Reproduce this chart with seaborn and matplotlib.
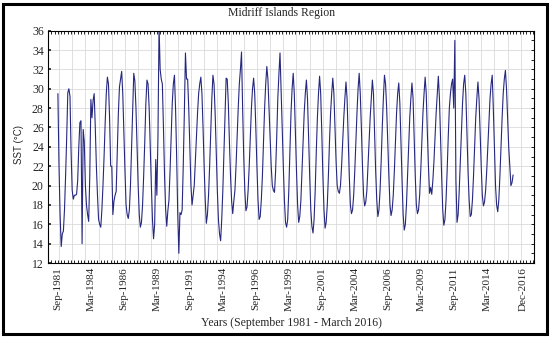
import numpy as np
import pandas as pd
import matplotlib
matplotlib.use("Agg")
import matplotlib.pyplot as plt
import seaborn as sns
from matplotlib.patches import Rectangle

# ---- data: monthly SST (deg C), Sep-1981 .. Mar-2016 ----
y1981 = [29.5, 22.0, 17.0, 13.7]
y1982 = [15.0, 15.3, 17.5, 21.0, 25.0, 29.6, 30.0, 29.2, 23.5, 19.5, 18.6, 19.0]
y1983 = [19.0, 19.1, 20.5, 24.0, 26.5, 26.7, 14.0, 25.8, 24.5, 20.0, 18.0, 17.0]
y1984 = [16.3, 21.0, 28.9, 27.0, 28.8, 29.5, 26.0, 22.0, 19.0, 16.5, 16.0, 15.7]
y1985 = [17.5, 20.0, 23.0, 26.5, 29.5, 31.2, 30.5, 27.0, 22.0, 22.0, 17.0, 18.4]
y1986 = [19.0, 19.4, 23.5, 27.5, 30.2, 31.0, 31.8, 29.5, 25.5, 21.5, 18.0, 17.0]
y1987 = [16.6, 17.5, 20.0, 24.0, 28.0, 31.6, 30.8, 28.0, 24.0, 20.0, 17.0, 15.7]
y1988 = [16.2, 18.0, 21.0, 24.5, 28.5, 30.9, 30.5, 28.0, 24.0, 20.0, 16.5, 14.5]
y1989 = [16.0, 22.7, 19.0, 25.0, 36.5, 32.0, 31.0, 30.5, 26.0, 21.0, 17.5, 15.8]
y1990 = [17.4, 18.5, 21.5, 25.0, 28.5, 30.5, 31.4, 28.0, 23.0, 17.0, 13.0, 17.2]
y1991 = [17.0, 17.5, 22.0, 27.5, 33.7, 31.0, 31.0, 28.0, 24.0, 20.0, 18.0, 19.0]
y1992 = [20.0, 22.5, 25.0, 27.5, 29.5, 30.5, 31.2, 29.5, 26.0, 22.0, 18.5, 16.1]
y1993 = [17.0, 19.0, 22.0, 25.5, 29.0, 31.4, 30.5, 27.5, 23.5, 19.5, 16.5, 15.0]
y1994 = [14.3, 16.5, 19.5, 23.5, 27.5, 31.1, 31.0, 28.5, 24.5, 21.0, 18.4, 17.1]
y1995 = [18.4, 19.5, 22.0, 25.0, 28.0, 30.5, 32.0, 33.8, 28.0, 23.0, 19.5, 17.4]
y1996 = [17.8, 19.5, 22.0, 25.0, 28.0, 30.0, 31.1, 29.5, 26.0, 22.0, 18.5, 16.5]
y1997 = [16.8, 18.5, 21.0, 24.5, 28.0, 30.5, 32.3, 31.0, 28.0, 25.0, 22.0, 20.0]
y1998 = [19.5, 19.3, 21.5, 25.0, 29.0, 31.5, 33.7, 30.0, 26.0, 22.0, 18.5, 16.2]
y1999 = [15.7, 16.5, 19.5, 23.5, 27.5, 30.0, 31.6, 29.5, 25.5, 21.5, 18.0, 16.2]
y2000 = [16.8, 18.5, 21.5, 24.5, 27.5, 29.5, 30.9, 29.0, 25.0, 21.0, 17.5, 15.8]
y2001 = [15.1, 16.5, 19.5, 23.5, 27.0, 29.5, 31.3, 29.5, 25.5, 21.0, 17.5, 15.6]
y2002 = [16.2, 18.0, 21.0, 24.5, 27.5, 29.5, 31.1, 29.5, 26.0, 22.5, 20.0, 19.4]
y2003 = [19.2, 20.0, 22.0, 24.5, 27.0, 29.0, 30.7, 29.0, 25.0, 21.0, 18.0, 17.1]
y2004 = [17.5, 19.0, 21.5, 24.5, 27.5, 30.0, 31.6, 29.5, 26.0, 22.0, 19.0, 17.9]
y2005 = [18.3, 19.5, 22.0, 24.5, 27.0, 29.0, 30.9, 29.5, 25.5, 21.5, 18.5, 16.8]
y2006 = [17.5, 19.5, 22.5, 26.0, 29.0, 31.4, 30.5, 28.0, 24.5, 21.0, 18.0, 16.9]
y2007 = [17.5, 19.0, 21.5, 24.5, 27.5, 29.5, 30.6, 28.5, 24.5, 20.5, 17.0, 15.4]
y2008 = [16.0, 18.0, 21.0, 24.0, 27.0, 29.0, 30.6, 29.0, 25.0, 21.0, 18.0, 17.1]
y2009 = [17.5, 19.0, 21.5, 24.5, 27.5, 29.5, 31.2, 29.5, 25.5, 22.0, 19.2, 19.8]
y2010 = [19.1, 20.5, 22.5, 25.0, 27.5, 29.5, 31.3, 29.0, 25.0, 21.0, 17.5, 15.9]
y2011 = [16.5, 18.5, 21.5, 25.0, 28.0, 29.5, 30.5, 31.0, 28.0, 35.0, 20.5, 16.2]
y2012 = [17.0, 19.5, 22.5, 25.5, 28.5, 30.5, 31.4, 29.5, 25.5, 21.5, 18.5, 16.8]
y2013 = [17.0, 18.5, 21.0, 24.0, 27.0, 29.0, 30.7, 29.0, 25.5, 22.0, 19.0, 17.9]
y2014 = [18.3, 19.5, 21.5, 24.0, 26.5, 29.0, 30.5, 31.4, 28.0, 24.0, 20.0, 18.0]
y2015 = [17.3, 18.5, 21.0, 24.0, 27.0, 29.5, 31.0, 31.9, 30.0, 27.0, 24.0, 22.0]
y2016 = [20.0, 20.3, 21.1]

tick_labels = ["Sep-1981", "Mar-1984", "Sep-1986", "Mar-1989", "Sep-1991",
               "Mar-1994", "Sep-1996", "Mar-1999", "Sep-2001", "Mar-2004",
               "Sep-2006", "Mar-2009", "Sep-2011", "Mar-2014", "Dec-2016"]
y_ticks = [12, 14, 16, 18, 20, 22, 24, 26, 28, 30, 32, 34, 36]

title = "Midriff Islands Region"
x_title = "Years (September 1981 - March 2016)"
y_title = "SST (°C)"

sst = np.array(y1981 + y1982 + y1983 + y1984 + y1985 + y1986 + y1987 + y1988 +
               y1989 + y1990 + y1991 + y1992 + y1993 + y1994 + y1995 + y1996 +
               y1997 + y1998 + y1999 + y2000 + y2001 + y2002 + y2003 + y2004 +
               y2005 + y2006 + y2007 + y2008 + y2009 + y2010 + y2011 + y2012 +
               y2013 + y2014 + y2015 + y2016)
df = pd.DataFrame({"month": np.arange(len(sst)), "sst": sst})

# ---- styling ----
sns.set_theme(style="white")
plt.rcParams['font.family'] = ['Liberation Serif', 'DejaVu Serif']

fig = plt.figure(figsize=(5.5, 3.37), dpi=100)
ax = fig.add_axes([48 / 550, 1 - 263 / 337, (534 - 48) / 550, (263 - 30.7) / 337])

sns.lineplot(data=df, x="month", y="sst", ax=ax, color="#26287f", lw=0.8)

xmin, xmax = -9, 433
ax.set_xlim(xmin, xmax)
ax.set_ylim(12, 36)

td = pd.to_datetime(tick_labels, format="%b-%Y")
tick_pos = (td.year - 1981) * 12 + td.month - 9
ax.set_xticks(tick_pos)
ax.set_xticklabels(tick_labels, rotation=90, fontsize=8)
ax.set_yticks(y_ticks)
ax.set_yticklabels([str(v) for v in y_ticks], fontsize=8.5)

ax.set_xticks(np.arange(1, xmax, 12), minor=True)
ax.grid(False)
ax.grid(which='minor', axis='x', color='#dadada', lw=0.6)
ax.grid(which='major', axis='y', color='#dadada', lw=0.6)
ax.tick_params(axis='x', which='both', length=0, pad=3)
ax.tick_params(axis='y', which='major', length=2, direction='in', pad=3, left=True)
ax.set_xlabel("")
ax.set_ylabel("")
for s in ax.spines.values():
    s.set_color('black')
    s.set_linewidth(0.8)

# dense decorative ticks on top/bottom and right
axt = ax.twiny()
axt.set_xlim(xmin, xmax)
axt.set_xticks(np.arange(xmin, xmax, 3))
axt.tick_params(axis='x', top=True, bottom=True, labeltop=False, labelbottom=False,
                direction='in', length=2, width=0.6, color='black')
axt.grid(False)
axr = ax.twinx()
axr.set_ylim(12, 36)
axr.set_yticks(np.arange(12, 37, 1))
axr.tick_params(axis='y', right=True, left=False, labelright=False, labelleft=False,
                direction='in', length=2.5, width=0.6, color='black')
axr.grid(False)
for a in (axt, axr):
    for s in a.spines.values():
        s.set_visible(False)

fig.text(0.512, 0.962, title, ha='center', va='center', fontsize=8.5)
fig.text(0.529, 0.043, x_title, ha='center', va='center', fontsize=8.5)
fig.text(0.034, 0.57, y_title, ha='center', va='center', rotation=90, fontsize=7,
         family=['Liberation Sans', 'DejaVu Sans'])

fig.add_artist(Rectangle((0.006, 0.01), 0.988, 0.978, transform=fig.transFigure,
                         fill=False, lw=2.2, ec='black'))

fig.savefig("out.png", dpi=100)
